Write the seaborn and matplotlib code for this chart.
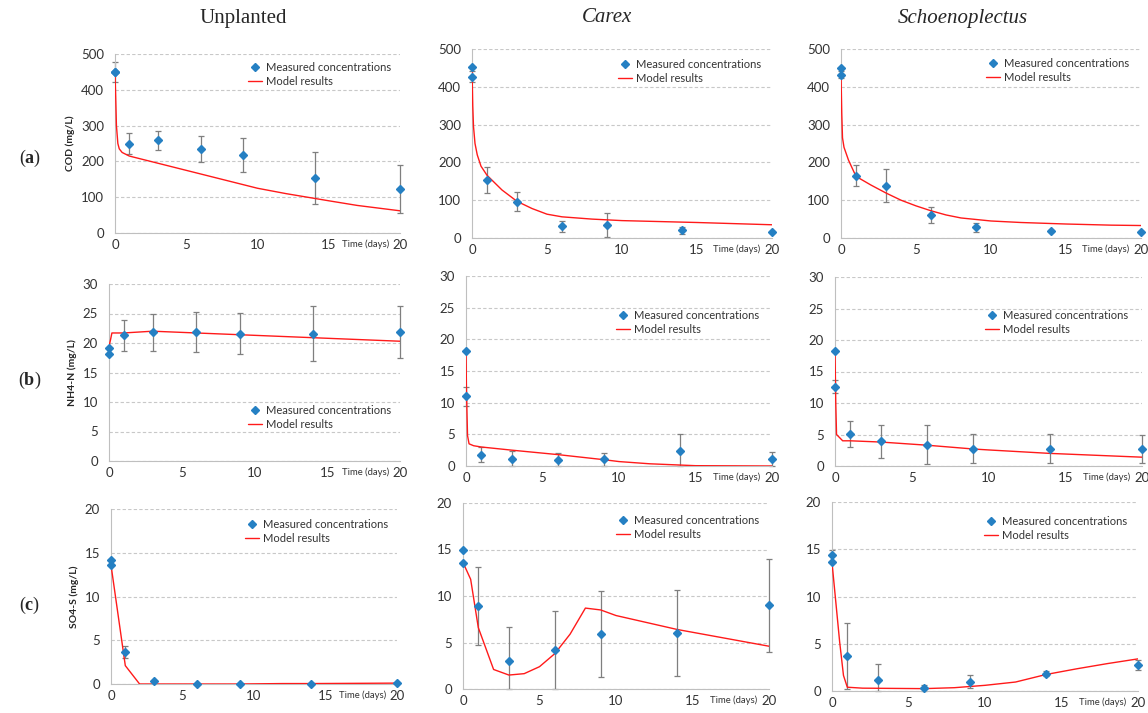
import numpy as np
import pandas as pd
import matplotlib
matplotlib.use("Agg")
import matplotlib.pyplot as plt
import seaborn as sns

# measurement days (two samples at t=0)
days = [0, 0, 1, 3, 6, 9, 14, 20]

# ---- COD (mg/L) ----
cod_unpl = [450, 449, 250, 259, 235, 217, 154, 123]
cod_unpl_lo = [28, 0, 28, 27, 36, 48, 72, 66]
cod_unpl_hi = [28, 0, 28, 27, 36, 48, 72, 66]
cod_unpl_mt = [0, 0.05, 0.1, 0.2, 0.3, 0.5, 1, 2, 3, 5, 7, 10, 12, 15, 17, 20]
cod_unpl_mv = [450, 380, 300, 250, 235, 225, 215, 205, 195, 175, 155, 125, 110, 90, 77, 62]

cod_carex = [452, 427, 154, 96, 31, 35, 20, 16]
cod_carex_lo = [0, 15, 35, 25, 15, 32, 10, 3]
cod_carex_hi = [0, 15, 35, 25, 15, 32, 10, 3]
cod_carex_mt = [0, 0.05, 0.1, 0.2, 0.35, 0.6, 1, 2, 3, 4, 5, 6, 8, 10, 15, 20]
cod_carex_mv = [450, 350, 295, 250, 220, 190, 166, 127, 97, 78, 63, 56, 50, 46, 41, 35]

cod_schoen = [451, 432, 165, 138, 60, 28, 19, 16]
cod_schoen_lo = [0, 10, 28, 44, 21, 12, 3, 2]
cod_schoen_hi = [0, 10, 28, 44, 21, 12, 3, 2]
cod_schoen_mt = [0, 0.05, 0.1, 0.2, 0.5, 1, 2, 3, 4, 5, 6, 7, 8, 10, 12, 15, 18, 20]
cod_schoen_mv = [432, 330, 265, 240, 206, 163, 140, 119, 100, 85, 72, 61, 53, 45, 41, 37, 34, 33]

# ---- NH4-N (mg/L) ----
nh4_unpl = [19.1, 18.2, 21.3, 21.8, 21.9, 21.6, 21.6, 21.9]
nh4_unpl_lo = [0, 0, 2.6, 3.1, 3.4, 3.5, 4.6, 4.4]
nh4_unpl_hi = [0, 0, 2.6, 3.1, 3.4, 3.5, 4.6, 4.4]
nh4_unpl_mt = [0, 0.1, 0.2, 1, 3, 6, 10, 15, 20]
nh4_unpl_mv = [19.4, 20.5, 21.7, 21.7, 22.0, 21.7, 21.3, 20.8, 20.3]

nh4_carex = [18.2, 11.0, 1.8, 1.1, 0.9, 1.1, 2.4, 1.1]
nh4_carex_lo = [0, 1.5, 1.2, 1.1, 0.9, 1.1, 2.4, 1.1]
nh4_carex_hi = [0, 1.5, 1.2, 1.2, 1.15, 1.0, 2.6, 1.1]
nh4_carex_mt = [0, 0.03, 0.1, 0.2, 0.5, 1, 3, 6, 9, 10, 12, 15, 20]
nh4_carex_mv = [18.2, 12.0, 4.8, 3.5, 3.2, 3.0, 2.5, 1.8, 1.0, 0.7, 0.35, 0.05, 0.0]

nh4_schoen = [18.2, 12.6, 5.1, 3.9, 3.4, 2.75, 2.75, 2.7]
nh4_schoen_lo = [0, 1.0, 2.05, 2.6, 3.15, 2.3, 2.3, 2.2]
nh4_schoen_hi = [0, 1.0, 2.05, 2.6, 3.15, 2.3, 2.3, 2.3]
nh4_schoen_mt = [0, 0.05, 0.1, 0.5, 1, 3, 6, 9, 10, 14, 15, 20]
nh4_schoen_mv = [18.2, 10.0, 5.0, 4.0, 4.0, 3.8, 3.3, 2.7, 2.55, 2.0, 1.9, 1.4]

# ---- SO4-S (mg/L) ----
so4_unpl = [14.2, 13.6, 3.7, 0.3, 0.0, 0.0, 0.0, 0.1]
so4_unpl_lo = [0, 0, 0.7, 0.1, 0, 0, 0, 0]
so4_unpl_hi = [0, 0, 0.7, 0.1, 0, 0, 0, 0]
so4_unpl_mt = [0, 1, 2, 3, 6, 9, 12, 14, 20]
so4_unpl_mv = [13.6, 2.1, 0.0, 0.0, 0.0, 0.0, 0.05, 0.05, 0.1]

so4_carex = [14.9, 13.6, 8.9, 3.0, 4.2, 5.9, 6.0, 9.0]
so4_carex_lo = [0, 0, 4.2, 3.0, 4.2, 4.65, 4.6, 5.0]
so4_carex_hi = [0, 0, 4.2, 3.7, 4.2, 4.65, 4.6, 5.0]
so4_carex_mt = [0, 0.5, 1, 2, 3, 4, 5, 6, 7, 8, 9, 10, 14, 15, 20]
so4_carex_mv = [13.6, 11.8, 6.6, 2.1, 1.5, 1.65, 2.4, 3.8, 5.9, 8.7, 8.5, 7.9, 6.4, 6.1, 4.6]

so4_schoen = [14.4, 13.6, 3.7, 1.15, 0.35, 0.95, 1.83, 2.7]
so4_schoen_lo = [0, 0, 3.5, 1.15, 0.3, 0.65, 0.25, 0.5]
so4_schoen_hi = [0.5, 0, 3.5, 1.7, 0.3, 0.7, 0.25, 0.55]
so4_schoen_mt = [0, 0.25, 0.5, 0.75, 1, 2, 6, 8, 10, 12, 14, 16, 18, 20]
so4_schoen_mv = [13.6, 9.4, 5.2, 1.65, 0.4, 0.3, 0.25, 0.35, 0.6, 0.95, 1.75, 2.35, 2.9, 3.4]

col_titles = ["Unplanted", "Carex", "Schoenoplectus"]
row_labels = ["a", "b", "c"]
y_labels = ["COD (mg/L)", "NH4-N (mg/L)", "SO4-S (mg/L)"]
y_limits = [(0, 500, 100), (0, 30, 5), (0, 20, 5)]

panels = [
    [(cod_unpl, cod_unpl_lo, cod_unpl_hi, cod_unpl_mt, cod_unpl_mv),
     (cod_carex, cod_carex_lo, cod_carex_hi, cod_carex_mt, cod_carex_mv),
     (cod_schoen, cod_schoen_lo, cod_schoen_hi, cod_schoen_mt, cod_schoen_mv)],
    [(nh4_unpl, nh4_unpl_lo, nh4_unpl_hi, nh4_unpl_mt, nh4_unpl_mv),
     (nh4_carex, nh4_carex_lo, nh4_carex_hi, nh4_carex_mt, nh4_carex_mv),
     (nh4_schoen, nh4_schoen_lo, nh4_schoen_hi, nh4_schoen_mt, nh4_schoen_mv)],
    [(so4_unpl, so4_unpl_lo, so4_unpl_hi, so4_unpl_mt, so4_unpl_mv),
     (so4_carex, so4_carex_lo, so4_carex_hi, so4_carex_mt, so4_carex_mv),
     (so4_schoen, so4_schoen_lo, so4_schoen_hi, so4_schoen_mt, so4_schoen_mv)],
]

# axes boxes in pixels: left, right, top, bottom
W, H = 1148, 713
boxes = [
    [(115, 400, 54, 233), (472, 772, 49, 238), (841, 1141, 49, 238)],
    [(109, 400, 284, 461), (466, 772, 276, 466), (835, 1142, 277, 466)],
    [(111, 397, 509, 684), (463, 769, 503, 689), (832, 1138, 502, 691)],
]
# legend anchor (handle left x, top y of first entry) in pixels
leg_pos = [
    [(248, 62), (618, 59), (986, 58)],
    [(248, 405), (616, 310), (985, 310)],
    [(245, 519), (616, 515), (984, 516)],
]

sns.set_style("white")
plt.rcParams["font.family"] = ["Lato", "DejaVu Sans"]
plt.rcParams["mathtext.fontset"] = "custom"
plt.rcParams["mathtext.rm"] = "Liberation Serif"
plt.rcParams["mathtext.bf"] = "Liberation Serif:bold"

fig = plt.figure(figsize=(W / 100, H / 100), dpi=100)
fig.patch.set_facecolor("white")

blue = "#2580C3"
red = "#FF1A1A"
axc = "#BFBFBF"

for r in range(3):
    for c in range(3):
        l, rr, t, b = boxes[r][c]
        ax = fig.add_axes([l / W, 1 - b / H, (rr - l) / W, (b - t) / H])
        meas, lo, hi, mt, mv = panels[r][c]
        model = pd.DataFrame({"t": mt, "v": mv})
        sns.lineplot(data=model, x="t", y="v", ax=ax, color=red, lw=1.0,
                     label="Model results", zorder=3)
        ax.errorbar(days, meas, yerr=[lo, hi], fmt="none", ecolor="#7F7F7F",
                    elinewidth=0.9, capsize=2.2, capthick=0.9, zorder=2, clip_on=False)
        ax.plot(days, meas, ls="none", marker="D", ms=4, color=blue,
                label="Measured concentrations", zorder=4, clip_on=False)

        y0, y1, step = y_limits[r]
        ax.set_xlim(0, 20)
        ax.set_ylim(y0, y1)
        ax.set_xticks([0, 5, 10, 15, 20])
        ax.set_yticks(np.arange(y0, y1 + step / 2, step))
        ax.grid(axis="y", ls=(0, (3, 2)), color="#C8C8C8", lw=0.8)
        ax.set_axisbelow(True)
        for s in ["top", "right"]:
            ax.spines[s].set_visible(False)
        for s in ["left", "bottom"]:
            ax.spines[s].set_color(axc)
            ax.spines[s].set_linewidth(0.8)
        ax.tick_params(axis="x", direction="inout", length=4, color=axc,
                       labelsize=9.5, labelcolor="#333333", pad=2.5)
        ax.tick_params(axis="y", length=0, labelsize=9.5, labelcolor="#333333", pad=8)
        ax.set_xlabel("")
        if c == 0:
            ax.set_ylabel(y_labels[r], fontsize=7.5, fontweight="bold", labelpad=4)
        else:
            ax.set_ylabel("")
        ax.text(0.962, -0.035, "Time (days)", transform=ax.transAxes, ha="right",
                va="top", fontsize=6.8, color="#333333")

        handles, labels = ax.get_legend_handles_labels()
        order = [labels.index("Measured concentrations"), labels.index("Model results")]
        lx, ly = leg_pos[r][c]
        ax.legend([handles[i] for i in order], [labels[i] for i in order],
                  loc="upper left", bbox_to_anchor=(lx / W, 1 - ly / H),
                  bbox_transform=fig.transFigure, frameon=False, fontsize=8,
                  handlelength=1.3, handletextpad=0.3, labelspacing=0.3,
                  borderpad=0, borderaxespad=0, labelcolor="#333333")

# column titles
title_x = [243, 607, 963]
for c in range(3):
    fig.text(title_x[c] / W, 1 - 18 / H, col_titles[c], ha="center", va="center",
             fontsize=15, family="Liberation Serif",
             style="normal" if c == 0 else "italic")

# row labels
row_y = [158, 380, 605]
for r in range(3):
    fig.text(30 / W, 1 - row_y[r] / H, r"$\mathrm{(}\mathbf{%s}\mathrm{)}$" % row_labels[r],
             ha="center", va="center", fontsize=13)

fig.savefig("out.png", dpi=100)
